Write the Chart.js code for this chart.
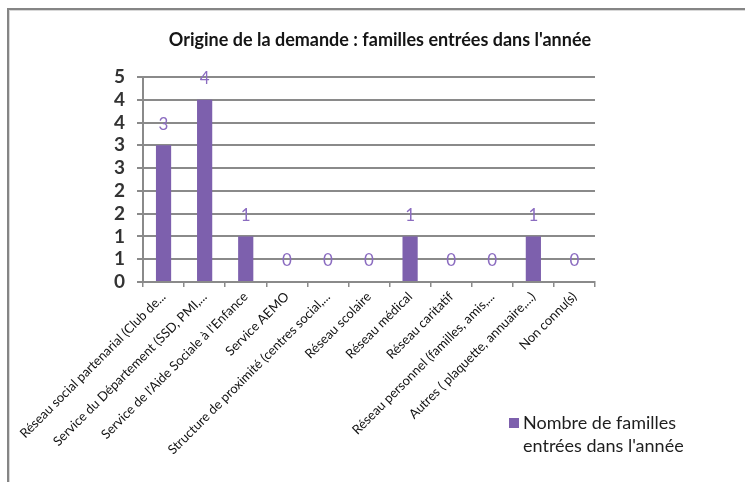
<!DOCTYPE html>
<html><head><meta charset="utf-8">
<script src="https://cdn.jsdelivr.net/npm/chart.js@4.4.0/dist/chart.umd.min.js"></script>
<style>html,body{margin:0;padding:0;background:#fff}#wrap{width:745px;height:482px;position:relative}</style>
</head><body><div id="wrap"><canvas id="c" width="745" height="482"></canvas></div>
<script>
const titleText = "Origine de la demande : familles entrées dans l'année";
const categories = [
  "Réseau social partenarial (Club de...",
  "Service du Département (SSD, PMI,...",
  "Service de l'Aide Sociale à l'Enfance",
  "Service AEMO",
  "Structure de proximité (centres social,...",
  "Réseau scolaire",
  "Réseau médical",
  "Réseau caritatif",
  "Réseau personnel (familles, amis,...",
  "Autres ( plaquette, annuaire,...)",
  "Non connu(s)"
];
const values = [3, 4, 1, 0, 0, 0, 1, 0, 0, 1, 0];
const seriesLabel = ["Nombre de familles", "entrées dans l'année"];
const yTickValues = [0, 0.5, 1, 1.5, 2, 2.5, 3, 3.5, 4, 4.5];
const yTickLabels = ["0", "1", "1", "2", "2", "3", "3", "4", "4", "5"];

const barColor = '#7d60ad';
const labelColor = '#8b6cc0';
const gridColor = '#8a8a8a';

const framePlugin = {
  id: 'frame',
  beforeDraw(chart) {
    const ctx = chart.ctx;
    ctx.save();
    ctx.fillStyle = '#ffffff';
    ctx.fillRect(0, 0, chart.width, chart.height);
    ctx.fillStyle = '#858585';
    ctx.fillRect(7, 8, chart.width - 7, 2);
    ctx.fillRect(7, 8, 2, chart.height - 8);
    ctx.fillStyle = '#d8d8d8';
    ctx.fillRect(9, 10, chart.width - 9, 1);
    ctx.fillRect(9, 10, 1, chart.height - 10);
    ctx.restore();
  },
  afterDraw(chart) {
    const ctx = chart.ctx;
    ctx.save();
    // title
    ctx.fillStyle = '#151515';
    ctx.font = 'bold 18px Lato, "Liberation Sans", sans-serif';
    ctx.textAlign = 'center';
    ctx.textBaseline = 'middle';
    ctx.fillText(titleText, 380, 40);
    // legend
    const ds = chart.data.datasets[0];
    ctx.fillStyle = ds.backgroundColor;
    ctx.fillRect(509, 418, 10, 10);
    ctx.fillStyle = '#1e1e1e';
    ctx.font = '18px Lato, "Liberation Sans", sans-serif';
    ctx.textAlign = 'left';
    ds.label.forEach((line, i) => ctx.fillText(line, 523, 423 + i * 23));
    ctx.restore();
  }
};

const dataLabelPlugin = {
  id: 'dataLabels',
  afterDatasetsDraw(chart) {
    const ctx = chart.ctx;
    ctx.save();
    ctx.fillStyle = labelColor;
    ctx.font = '17px Lato, "Liberation Sans", sans-serif';
    ctx.textAlign = 'center';
    ctx.textBaseline = 'middle';
    chart.getDatasetMeta(0).data.forEach((bar, i) => {
      ctx.fillText(String(chart.data.datasets[0].data[i]), bar.x, bar.y - 21);
    });
    ctx.restore();
  }
};

new Chart(document.getElementById('c'), {
  type: 'bar',
  data: {
    labels: categories,
    datasets: [{
      label: seriesLabel,
      data: values,
      backgroundColor: barColor,
      categoryPercentage: 1,
      barPercentage: 0.37
    }]
  },
  options: {
    responsive: false,
    animation: false,
    devicePixelRatio: 1,
    layout: { padding: { left: 0, right: 150, top: 77, bottom: 0 } },
    plugins: { legend: { display: false }, title: { display: false }, tooltip: { enabled: false } },
    scales: {
      x: {
        afterFit(scale) { scale.height = 200; },
        grid: { display: true, drawOnChartArea: false, drawTicks: true, tickLength: 5, color: gridColor, lineWidth: 1.5, offset: true },
        border: { display: true, color: gridColor, width: 2 },
        ticks: {
          autoSkip: false, maxRotation: 45, minRotation: 45,
          color: '#111111', padding: 2,
          font: { family: 'Lato, "Liberation Sans", sans-serif', size: 13 }
        }
      },
      y: {
        min: 0, max: 4.5,
        afterFit(scale) { scale.width = 143; },
        afterBuildTicks(scale) { scale.ticks = yTickValues.map(v => ({ value: v })); },
        grid: { color: gridColor, lineWidth: 2, drawTicks: true, tickLength: 6 },
        border: { display: true, color: gridColor, width: 2 },
        ticks: {
          autoSkip: false,
          callback: (v) => yTickLabels[yTickValues.indexOf(v)],
          color: '#333333', padding: 12,
          font: { family: 'Lato, "Liberation Sans", sans-serif', size: 19, weight: 'bold' }
        }
      }
    }
  },
  plugins: [framePlugin, dataLabelPlugin]
});
</script></body></html>
